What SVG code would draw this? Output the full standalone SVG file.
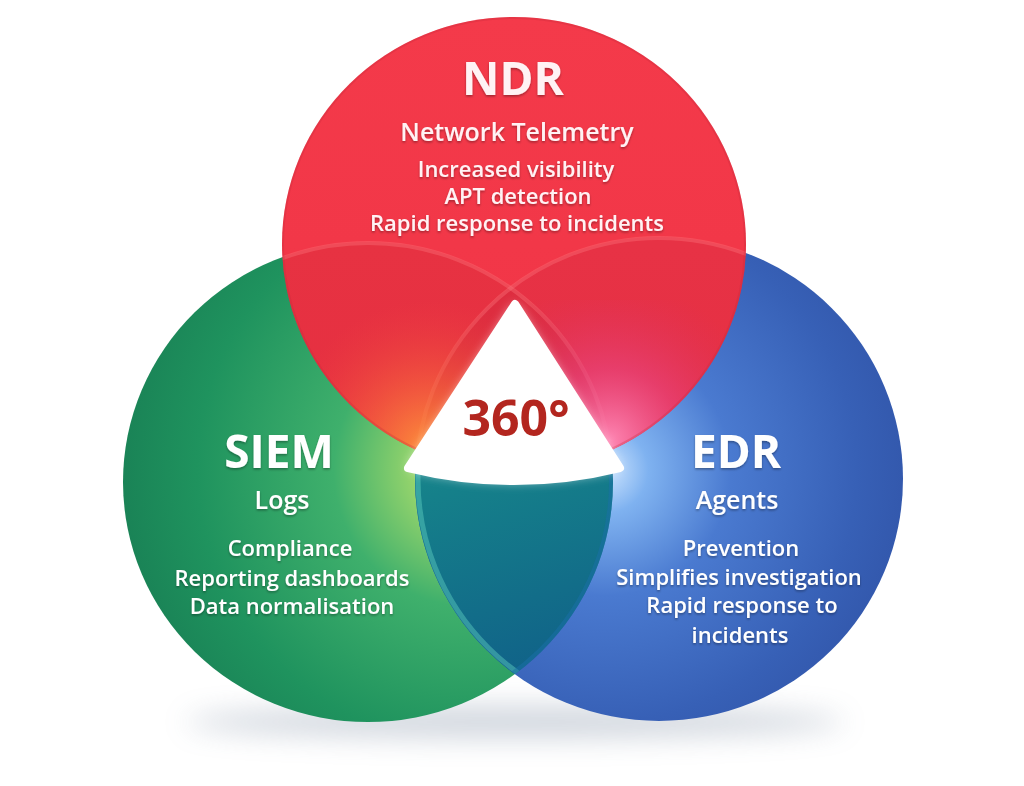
<svg xmlns="http://www.w3.org/2000/svg" width="1024" height="786" viewBox="0 0 1024 786">
  <style>
    .t { font-family: "Open Sans", "Liberation Sans", sans-serif; fill: #ffffff; text-anchor: middle; filter: url(#tshadow); }
    .title { font-size: 46px; font-weight: 700; }
    .sub { font-size: 25px; font-weight: 600; }
    .item { font-size: 22px; font-weight: 600; }
    .ndr { fill: #fff2f4; }
  </style>
  <defs>
    <filter id="tshadow" x="-10%" y="-30%" width="120%" height="160%">
      <feDropShadow dx="0" dy="1.5" stdDeviation="1.2" flood-color="#000000" flood-opacity="0.35"/>
    </filter>
    <filter id="blur18" x="-30%" y="-200%" width="160%" height="500%">
      <feGaussianBlur stdDeviation="14"/>
    </filter>
    <filter id="glow" x="-30%" y="-30%" width="160%" height="160%">
      <feGaussianBlur stdDeviation="6"/>
    </filter>
    <radialGradient id="gGreen" gradientUnits="userSpaceOnUse" cx="470" cy="470" r="390">
      <stop offset="0" stop-color="#e4f27a"/>
      <stop offset="0.12" stop-color="#9fd86c"/>
      <stop offset="0.35" stop-color="#3fb06c"/>
      <stop offset="0.7" stop-color="#1f935e"/>
      <stop offset="1" stop-color="#177a52"/>
    </radialGradient>
    <radialGradient id="gBlue" gradientUnits="userSpaceOnUse" cx="605" cy="470" r="360">
      <stop offset="0" stop-color="#cfe6ff"/>
      <stop offset="0.12" stop-color="#7fb2f0"/>
      <stop offset="0.35" stop-color="#4a7ad0"/>
      <stop offset="0.7" stop-color="#3760b6"/>
      <stop offset="1" stop-color="#2e4fa2"/>
    </radialGradient>
    <linearGradient id="gTeal" x1="0" y1="0" x2="0.3" y2="1">
      <stop offset="0" stop-color="#26a68c"/>
      <stop offset="0.5" stop-color="#15808a"/>
      <stop offset="1" stop-color="#0f5a88"/>
    </linearGradient>
    <linearGradient id="gRed" x1="0" y1="0" x2="0" y2="1">
      <stop offset="0" stop-color="#f43a4a"/>
      <stop offset="1" stop-color="#f03446"/>
    </linearGradient>
    <radialGradient id="gOrange" gradientUnits="userSpaceOnUse" cx="430" cy="450" r="150">
      <stop offset="0" stop-color="#ff9a3a" stop-opacity="0.95"/>
      <stop offset="0.5" stop-color="#f86a3c" stop-opacity="0.5"/>
      <stop offset="1" stop-color="#f04040" stop-opacity="0"/>
    </radialGradient>
    <radialGradient id="gPink" gradientUnits="userSpaceOnUse" cx="610" cy="440" r="160">
      <stop offset="0" stop-color="#ff8ab8" stop-opacity="0.95"/>
      <stop offset="0.45" stop-color="#e8488a" stop-opacity="0.55"/>
      <stop offset="1" stop-color="#d83060" stop-opacity="0"/>
    </radialGradient>
    <clipPath id="cGreen"><ellipse cx="368" cy="482" rx="245" ry="240"/></clipPath>
    <clipPath id="cBlue"><ellipse cx="659" cy="479" rx="244" ry="242"/></clipPath>
    <clipPath id="cRed"><ellipse cx="514" cy="244" rx="232" ry="227"/></clipPath>
  </defs>

  <rect width="1024" height="786" fill="#ffffff"/>

  <!-- ground shadow -->
  <ellipse cx="515" cy="722" rx="330" ry="16" fill="#7a8aa0" opacity="0.35" filter="url(#blur18)"/>

  <g id="node-siem">
    <ellipse cx="368" cy="482" rx="245" ry="240" fill="url(#gGreen)"/>
  </g>

  <g id="node-edr">
    <ellipse cx="659" cy="479" rx="244" ry="242" fill="url(#gBlue)"/>
    <g clip-path="url(#cGreen)">
      <ellipse cx="659" cy="479" rx="244" ry="242" fill="url(#gTeal)"/>
      <ellipse cx="659" cy="479" rx="241" ry="239" fill="none" stroke="#5fd0c0" stroke-opacity="0.45" stroke-width="5"/>
    </g>
    <g clip-path="url(#cBlue)">
      <ellipse cx="368" cy="482" rx="243" ry="238" fill="none" stroke="#1a70a8" stroke-opacity="0.5" stroke-width="4"/>
    </g>
  </g>

  <g id="node-ndr">
    <ellipse cx="514" cy="244" rx="232" ry="227" fill="url(#gRed)"/>
    <g clip-path="url(#cRed)">
      <ellipse cx="368" cy="482" rx="245" ry="240" fill="#b01828" opacity="0.16"/>
      <ellipse cx="659" cy="479" rx="244" ry="242" fill="#b01838" opacity="0.16"/>
      <ellipse cx="368" cy="482" rx="244" ry="239" fill="none" stroke="#ff7a80" stroke-opacity="0.35" stroke-width="4"/>
      <ellipse cx="659" cy="479" rx="243" ry="241" fill="none" stroke="#ff7a80" stroke-opacity="0.35" stroke-width="4"/>
      <rect x="280" y="300" width="460" height="180" fill="url(#gOrange)"/>
      <rect x="280" y="300" width="460" height="180" fill="url(#gPink)"/>
    </g>
    <ellipse cx="514" cy="244" rx="231" ry="226" fill="none" stroke="#c82a3a" stroke-opacity="0.3" stroke-width="2"/>
  </g>

  <g id="node-center">
    <path d="M515,304 L620,468 Q514,494 408,468 Z" fill="#ffffff" opacity="0.8" filter="url(#glow)"/>
    <path d="M515,304 L620,468 Q514,494 408,468 Z" fill="#ffffff" stroke="#ffffff" stroke-width="8" stroke-linejoin="round"/>
    <text x="516" y="436" font-family="'Open Sans', 'Liberation Sans', sans-serif" font-size="50" font-weight="700" fill="#b3261f" text-anchor="middle">360°</text>
  </g>

  <g id="connectors"/>

  <g id="labels-ndr">
    <text class="t title ndr" x="513" y="95">NDR</text>
    <text class="t sub ndr" x="517" y="141">Network Telemetry</text>
    <text class="t item ndr" x="516" y="177">Increased visibility</text>
    <text class="t item ndr" x="518" y="204">APT detection</text>
    <text class="t item ndr" x="517" y="231">Rapid response to incidents</text>
  </g>
  <g id="labels-siem">
    <text class="t title" x="279" y="468">SIEM</text>
    <text class="t sub" x="282" y="509">Logs</text>
    <text class="t item" x="290" y="556">Compliance</text>
    <text class="t item" x="292" y="586">Reporting dashboards</text>
    <text class="t item" x="292" y="614">Data normalisation</text>
  </g>
  <g id="labels-edr">
    <text class="t title" x="736" y="468">EDR</text>
    <text class="t sub" x="737" y="509">Agents</text>
    <text class="t item" x="741" y="556">Prevention</text>
    <text class="t item" x="739" y="585">Simplifies investigation</text>
    <text class="t item" x="742" y="613">Rapid response to</text>
    <text class="t item" x="740" y="643">incidents</text>
  </g>
</svg>
